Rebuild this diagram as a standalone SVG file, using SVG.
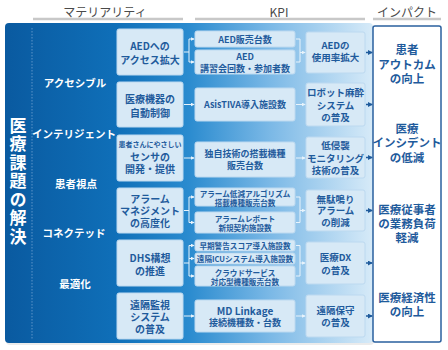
<svg xmlns="http://www.w3.org/2000/svg" width="448" height="350" viewBox="0 0 448 350">
<defs>
<linearGradient id="bg" x1="5" y1="0" x2="372" y2="0" gradientUnits="userSpaceOnUse">
<stop offset="0" stop-color="#0a5aa0"/>
<stop offset="0.3" stop-color="#0f6fb8"/>
<stop offset="0.5" stop-color="#2a8bcf"/>
<stop offset="0.72" stop-color="#7ab8e6"/>
<stop offset="1" stop-color="#d6eaf8"/>
</linearGradient>
<marker id="aw" viewBox="0 0 6 6" refX="5" refY="3" markerWidth="4" markerHeight="4" orient="auto" markerUnits="userSpaceOnUse">
<path d="M0,0 L6,3 L0,6 z" fill="#e8f3fb"/>
</marker>
<marker id="ab" viewBox="0 0 6 6" refX="5" refY="3" markerWidth="5" markerHeight="5" orient="auto" markerUnits="userSpaceOnUse">
<path d="M0,0 L6,3 L0,6 z" fill="#1f5b9c"/>
</marker>
</defs>
<style>
text{font-family:"Noto Sans CJK JP","Noto Sans",sans-serif;text-anchor:middle;dominant-baseline:central}
.hd{font-size:12px;fill:#4a4a4a}
.hl{stroke:#c8c8c8;stroke-width:2.5}
.box{fill:#d7e9f6;stroke:#bcd9f0;stroke-width:1}
.t{fill:#1f5b9c;font-weight:700;font-size:10px}
.k{fill:#1f5b9c;font-weight:700;font-size:9px}
.ks{fill:#1f5b9c;font-weight:700;font-size:7.6px}
.cat{fill:#ffffff;font-weight:700;font-size:10.5px}
.big{fill:#ffffff;font-weight:700;font-size:17px;writing-mode:vertical-rl;text-anchor:start;letter-spacing:1.5px}
.imp{fill:#1f5b9c;font-weight:700;font-size:11.5px}
.la{stroke:#e8f3fb;stroke-width:1;fill:none}
.da{stroke:#1f5b9c;stroke-width:1.5;fill:none}
</style>
<g id="headers">
<text class="hd" x="105" y="11">マテリアリティ</text>
<line class="hl" x1="33" y1="19" x2="183" y2="19"/>
<text class="hd" x="279" y="11">KPI</text>
<line class="hl" x1="195" y1="19" x2="365" y2="19"/>
<text class="hd" x="407" y="11">インパクト</text>
<line class="hl" x1="373" y1="19" x2="441" y2="19"/>
</g>
<g id="panel">
<rect x="6" y="25" width="368" height="320" rx="4" fill="#000" opacity="0.08"/>
<rect x="5" y="23" width="368" height="320" rx="4" fill="url(#bg)"/>
<line x1="32" y1="28" x2="32" y2="340" stroke="#5c95c8" stroke-width="1" stroke-dasharray="1.5,1.5"/>
</g>
<g id="title">
<text class="big" x="18" y="117">医療課題の解決</text>
</g>
<g id="categories">
<text class="cat" x="75" y="82">アクセシブル</text>
<text class="cat" x="74" y="133">インテリジェント</text>
<text class="cat" x="76" y="183">患者視点</text>
<text class="cat" x="74" y="232">コネクテッド</text>
<text class="cat" x="75" y="283">最適化</text>
</g>
<g id="m1"><rect class="box" x="117" y="29" width="66" height="46" rx="2"/><text class="t" x="150"><tspan x="150" y="45">AEDへの</tspan><tspan x="150" y="59">アクセス拡大</tspan></text></g>
<g id="m2"><rect class="box" x="117" y="82" width="66" height="45" rx="2"/><text class="t" x="150"><tspan x="150" y="98">医療機器の</tspan><tspan x="150" y="111.5">自動制御</tspan></text></g>
<g id="m3"><rect class="box" x="117" y="135" width="66" height="46" rx="2"/><text class="t" x="150"><tspan class="ks" style="font-size:7px" x="150" y="143.5">患者さんにやさしい</tspan><tspan x="150" y="155.5">センサの</tspan><tspan x="150" y="168">開発・提供</tspan></text></g>
<g id="m4"><rect class="box" x="117" y="188" width="66" height="45" rx="2"/><text class="t" x="150"><tspan x="150" y="198">アラーム</tspan><tspan x="150" y="210">マネジメント</tspan><tspan x="150" y="222">の高度化</tspan></text></g>
<g id="m5"><rect class="box" x="117" y="240" width="66" height="46" rx="2"/><text class="t" x="150"><tspan x="150" y="257">DHS構想</tspan><tspan x="150" y="270">の推進</tspan></text></g>
<g id="m6"><rect class="box" x="117" y="293" width="66" height="46" rx="2"/><text class="t" x="150"><tspan x="150" y="304">遠隔監視</tspan><tspan x="150" y="316">システム</tspan><tspan x="150" y="328">の普及</tspan></text></g>
<g id="k1a"><rect class="box" x="195" y="31" width="100" height="16" rx="2"/><text class="k" x="245" y="39">AED販売台数</text></g>
<g id="k1b"><rect class="box" x="195" y="50" width="100" height="24" rx="2"/><text class="k" x="245"><tspan x="245" y="56">AED</tspan><tspan x="245" y="67.5">講習会回数・参加者数</tspan></text></g>
<g id="k2"><rect class="box" x="195" y="88" width="100" height="33" rx="2"/><text class="k" x="245" y="104.5">AsisTIVA導入施設数</text></g>
<g id="k3"><rect class="box" x="195" y="142" width="100" height="35" rx="2"/><text class="k" x="245"><tspan x="245" y="153">独自技術の搭載機種</tspan><tspan x="245" y="164.5">販売台数</tspan></text></g>
<g id="k4a"><rect class="box" x="195" y="188" width="100" height="18" rx="2"/><text class="ks" x="245"><tspan x="245" y="193">アラーム低減アルゴリズム</tspan><tspan x="245" y="202">搭載機種販売台数</tspan></text></g>
<g id="k4b"><rect class="box" x="195" y="212" width="100" height="21" rx="2"/><text class="ks" x="245"><tspan x="245" y="217.5">アラームレポート</tspan><tspan x="245" y="227">新規契約施設数</tspan></text></g>
<g id="k5a"><rect class="box" x="195" y="240" width="100" height="11" rx="2"/><text class="ks" x="245" y="245.5">早期警告スコア導入施設数</text></g>
<g id="k5b"><rect class="box" x="195" y="253" width="100" height="11" rx="2"/><text class="ks" x="245" y="258.5">遠隔ICUシステム導入施設数</text></g>
<g id="k5c"><rect class="box" x="195" y="266" width="100" height="20" rx="2"/><text class="ks" x="245"><tspan x="245" y="271.5">クラウドサービス</tspan><tspan x="245" y="280.5">対応型機種販売台数</tspan></text></g>
<g id="k6"><rect class="box" x="195" y="300" width="100" height="32" rx="2"/><text class="t" x="245"><tspan x="245" y="310">MD Linkage</tspan><tspan class="k" x="245" y="322">接続機種数・台数</tspan></text></g>
<g id="o1"><rect class="box" x="306" y="32" width="59" height="41" rx="2"/><text class="k" style="font-size:9.5px" x="335.5"><tspan x="335.5" y="45">AEDの</tspan><tspan x="335.5" y="57">使用率拡大</tspan></text></g>
<g id="o2"><rect class="box" x="306" y="83" width="59" height="43" rx="2"/><text class="k" style="font-size:9.5px" x="335.5"><tspan x="335.5" y="92">ロボット麻酔</tspan><tspan x="335.5" y="104.5">システム</tspan><tspan x="335.5" y="117">の普及</tspan></text></g>
<g id="o3"><rect class="box" x="306" y="137" width="59" height="41" rx="2"/><text class="k" style="font-size:9.5px" x="335.5"><tspan x="335.5" y="145">低侵襲</tspan><tspan x="335.5" y="157.5">モニタリング</tspan><tspan x="335.5" y="170">技術の普及</tspan></text></g>
<g id="o4"><rect class="box" x="306" y="190" width="59" height="41" rx="2"/><text class="k" style="font-size:9.5px" x="335.5"><tspan x="335.5" y="198.5">無駄鳴り</tspan><tspan x="335.5" y="210">アラーム</tspan><tspan x="335.5" y="222">の削減</tspan></text></g>
<g id="o5"><rect class="box" x="306" y="242" width="59" height="42" rx="2"/><text class="k" style="font-size:9.5px" x="335.5"><tspan x="335.5" y="257">医療DX</tspan><tspan x="335.5" y="269.5">の普及</tspan></text></g>
<g id="o6"><rect class="box" x="306" y="295" width="59" height="42" rx="2"/><text class="k" style="font-size:9.5px" x="335.5"><tspan x="335.5" y="310">遠隔保守</tspan><tspan x="335.5" y="322">の普及</tspan></text></g>
<g id="impact">
<rect x="373" y="26" width="68" height="316" rx="2" fill="#ffffff" stroke="#2a609f" stroke-width="1.5"/>
<text class="imp" x="407"><tspan x="407" y="49">患者</tspan><tspan x="407" y="63.5">アウトカム</tspan><tspan x="407" y="78">の向上</tspan></text>
<text class="imp" x="407"><tspan x="407" y="127.5">医療</tspan><tspan x="407" y="142">インシデント</tspan><tspan x="407" y="156.5">の低減</tspan></text>
<text class="imp" x="407"><tspan x="407" y="209">医療従事者</tspan><tspan x="407" y="223">の業務負荷</tspan><tspan x="407" y="237">軽減</tspan></text>
<text class="imp" x="407"><tspan x="407" y="297">医療経済性</tspan><tspan x="407" y="311">の向上</tspan></text>
</g>
<g id="connectors">
<path class="la" d="M184,52 H189 M189,39 V62"/>
<path class="la" d="M189,39 H194" marker-end="url(#aw)"/>
<path class="la" d="M189,62 H194" marker-end="url(#aw)"/>
<path class="la" d="M184,104.5 H194" marker-end="url(#aw)"/>
<path class="la" d="M184,158 H194" marker-end="url(#aw)"/>
<path class="la" d="M184,210.5 H189 M189,197 V222.5"/>
<path class="la" d="M189,197 H194" marker-end="url(#aw)"/>
<path class="la" d="M189,222.5 H194" marker-end="url(#aw)"/>
<path class="la" d="M184,263 H189 M189,245.5 V276"/>
<path class="la" d="M189,245.5 H194" marker-end="url(#aw)"/>
<path class="la" d="M189,258.5 H194" marker-end="url(#aw)"/>
<path class="la" d="M189,276 H194" marker-end="url(#aw)"/>
<path class="la" d="M184,316 H194" marker-end="url(#aw)"/>
<path class="la" d="M296,39 H300 V62 H296"/>
<path class="la" d="M300,52.5 H305" marker-end="url(#aw)"/>
<path class="la" d="M296,104.5 H305" marker-end="url(#aw)"/>
<path class="la" d="M296,158 H305" marker-end="url(#aw)"/>
<path class="la" d="M296,197 H300 V222.5 H296"/>
<path class="la" d="M300,210.5 H305" marker-end="url(#aw)"/>
<path class="la" d="M296,245.5 H300 V276 H296"/>
<path class="la" d="M300,263 H305" marker-end="url(#aw)"/>
<path class="la" d="M296,316 H305" marker-end="url(#aw)"/>
<path class="da" d="M366,52.5 H372" marker-end="url(#ab)"/>
<path class="da" d="M366,104.5 H372" marker-end="url(#ab)"/>
<path class="da" d="M366,157.5 H372" marker-end="url(#ab)"/>
<path class="da" d="M366,210.5 H372" marker-end="url(#ab)"/>
<path class="da" d="M366,263 H372" marker-end="url(#ab)"/>
<path class="da" d="M366,316 H372" marker-end="url(#ab)"/>
</g>
</svg>
